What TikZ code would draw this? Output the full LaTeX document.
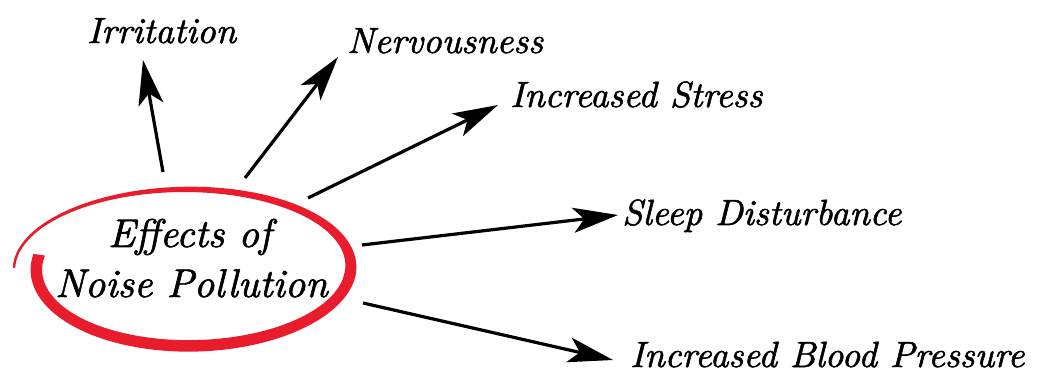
\documentclass[tikz,border=0pt]{standalone}
\usepackage{fontspec}
\newfontfamily\labfont{lmroman10-italic.otf}[FakeBold=1.5]
\usetikzlibrary{arrows.meta}
\definecolor{brushred}{RGB}{232,28,45}
\tikzset{
  label/.style={anchor=base west, inner sep=0pt, font=\labfont\fontsize{36.4}{40}\selectfont},
  title/.style={anchor=base west, inner sep=0pt, font=\labfont\fontsize{40}{44}\selectfont},
  effect/.style={line width=3.2pt, draw=black, -{Stealth[length=45pt, width=25pt, inset=11pt]}},
  declare function={ang(\s)=180-370*\s; wd(\s)=2.5+9*(min(1,2*\s))^1.6; rxx(\s)=174-23*\s; ryy(\s)=79-1.5*\s;}
}
\begin{document}
\begin{tikzpicture}[x=1pt,y=-1pt]
\fill[white] (0,0) rectangle (1041,374);
\useasboundingbox (0,0) rectangle (1041,374);
% brush ellipse
\fill[brushred]
  plot[domain=0:1, samples=240, variable=\t] ({188+(rxx(\t)+wd(\t)/2)*cos(ang(\t))},{268-(ryy(\t)+wd(\t)/2)*sin(ang(\t))})
  -- plot[domain=1:0, samples=240, variable=\t] ({188+(rxx(\t)-wd(\t)/2)*cos(ang(\t))},{268-(ryy(\t)-wd(\t)/2)*sin(ang(\t))})
  -- cycle;
% center text
\node[title] (eff1) at (108,247) {Effects of};
\node[title] (eff2) at (55,297) {Noise Pollution};
% labels
\node[label] (irr) at (87,43) {Irritation};
\node[label] (nerv) at (347,53) {Nervousness};
\node[label] (stress) at (510,107) {Increased Stress};
\node[label] (sleep) at (622,225) {Sleep Disturbance};
\node[label] (blood) at (630,367) {Increased Blood Pressure};
% arrow endpoints
\coordinate (s1) at (163,172); \coordinate (e1) at (143,60);
\coordinate (s2) at (245,178); \coordinate (e2) at (338,57);
\coordinate (s3) at (308,198); \coordinate (e3) at (498,105);
\coordinate (s4) at (362,245); \coordinate (e4) at (618,215);
\coordinate (s5) at (363,303); \coordinate (e5) at (613,360);
\draw[effect] (s1) -- (e1);
\draw[effect] (s2) -- (e2);
\draw[effect] (s3) -- (e3);
\draw[effect] (s4) -- (e4);
\draw[effect] (s5) -- (e5);
\end{tikzpicture}
\end{document}
